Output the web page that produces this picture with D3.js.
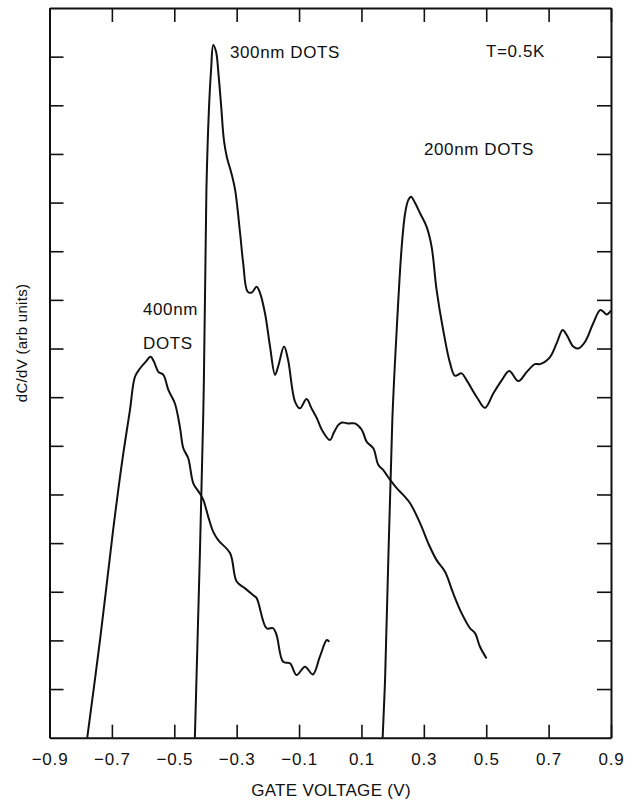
<!DOCTYPE html>
<html>
<head>
<meta charset="utf-8">
<script src="https://cdn.jsdelivr.net/npm/d3@7"></script>
<style>
  body { margin: 0; background: #fff; }
  text { font-family: "Liberation Sans", Arial, sans-serif; fill: #111; }
</style>
</head>
<body>
<script>
// gate voltage ticks (V)
var xTicks = [-0.9, -0.7, -0.5, -0.3, -0.1, 0.1, 0.3, 0.5, 0.7, 0.9];
// unlabeled ticks on the dC/dV axis (arb units)
var yTicks = [1, 2, 3, 4, 5, 6, 7, 8, 9, 10, 11, 12, 13, 14];

// [gate voltage, dC/dV]
var dots400 = [
  [-0.779, 0], [-0.738, 2.01], [-0.696, 4.27], [-0.668, 5.64], [-0.642, 6.74],
  [-0.626, 7.42], [-0.610, 7.59], [-0.591, 7.73], [-0.576, 7.83], [-0.565, 7.73],
  [-0.551, 7.52], [-0.535, 7.46], [-0.519, 7.15], [-0.498, 6.87], [-0.482, 6.39],
  [-0.471, 5.95], [-0.455, 5.74], [-0.439, 5.23], [-0.418, 5.02], [-0.407, 4.89],
  [-0.391, 4.54], [-0.375, 4.23], [-0.359, 4.06], [-0.321, 3.79], [-0.300, 3.21],
  [-0.273, 3.07], [-0.247, 2.93], [-0.236, 2.87], [-0.204, 2.25], [-0.183, 2.25],
  [-0.172, 2.11], [-0.151, 1.56], [-0.129, 1.53], [-0.108, 1.29], [-0.081, 1.46],
  [-0.056, 1.30], [-0.033, 1.67], [-0.011, 2.01], [-0.003, 1.97]
];

var dots300 = [
  [-0.434, 0], [-0.407, 6.67], [-0.397, 11.26], [-0.389, 12.90], [-0.382, 13.73],
  [-0.375, 14.24], [-0.366, 14.10], [-0.358, 13.62], [-0.350, 13.01], [-0.341, 12.29],
  [-0.331, 11.92], [-0.318, 11.63], [-0.305, 11.26], [-0.289, 10.37], [-0.279, 9.75],
  [-0.265, 9.17], [-0.252, 9.15], [-0.236, 9.27], [-0.225, 9.14], [-0.209, 8.72],
  [-0.193, 8.04], [-0.177, 7.46], [-0.167, 7.63], [-0.148, 8.04], [-0.135, 7.76],
  [-0.113, 6.91], [-0.097, 6.77], [-0.076, 6.96], [-0.060, 6.77], [-0.043, 6.57],
  [-0.027, 6.33], [-0.001, 6.12], [0.012, 6.28], [0.026, 6.43], [0.037, 6.48],
  [0.057, 6.46], [0.079, 6.46], [0.101, 6.33], [0.117, 6.08], [0.138, 5.95],
  [0.154, 5.61], [0.170, 5.50], [0.192, 5.30], [0.213, 5.13], [0.234, 4.99],
  [0.256, 4.82], [0.288, 4.41], [0.314, 4.00], [0.341, 3.65], [0.368, 3.41],
  [0.394, 2.97], [0.421, 2.56], [0.448, 2.25], [0.464, 2.15], [0.480, 1.87],
  [0.501, 1.63]
];

var dots200 = [
  [0.168, 0], [0.176, 1.25], [0.199, 6.53], [0.213, 8.38], [0.229, 10.09],
  [0.240, 10.78], [0.250, 11.05], [0.259, 11.12], [0.272, 10.99], [0.288, 10.78],
  [0.309, 10.50], [0.325, 10.09], [0.341, 9.20], [0.362, 8.38], [0.384, 7.70],
  [0.400, 7.44], [0.421, 7.49], [0.437, 7.35], [0.469, 7.01], [0.496, 6.78],
  [0.523, 7.08], [0.550, 7.35], [0.574, 7.54], [0.603, 7.33], [0.630, 7.52],
  [0.656, 7.68], [0.672, 7.68], [0.704, 7.82], [0.726, 8.11], [0.745, 8.38],
  [0.758, 8.28], [0.779, 8.04], [0.795, 8.00], [0.817, 8.14], [0.843, 8.52],
  [0.865, 8.79], [0.875, 8.76], [0.886, 8.70], [0.900, 8.78]
];

var width = 636,
  height = 801,
  padLeft = 49.5,
  padRight = 611,
  padTop = 8,
  padBottom = 737.7;

var svg = d3
  .select("body")
  .append("svg")
  .attr("width", width)
  .attr("height", height);

var x = d3.scaleLinear().domain([-0.9, 0.9]).range([padLeft, padRight]);
var y = d3.scaleLinear().domain([0, 15]).range([padBottom, padTop]);

var fmt = function (d) {
  return d3.format(".1f")(d).replace("-", "\u2212");
};

// frame: ticks on all four sides point inward
var xBottom = svg
  .append("g")
  .attr("class", "axis")
  .attr("transform", "translate(0," + padBottom + ")")
  .call(d3.axisBottom(x).tickValues(xTicks).tickSize(-13).tickSizeOuter(0).tickPadding(15).tickFormat(fmt));

svg
  .append("g")
  .attr("class", "axis")
  .attr("transform", "translate(0," + padTop + ")")
  .call(d3.axisTop(x).tickValues(xTicks).tickSize(-14).tickSizeOuter(0).tickFormat(""));

svg
  .append("g")
  .attr("class", "axis")
  .attr("transform", "translate(" + padLeft + ",0)")
  .call(d3.axisLeft(y).tickValues(yTicks).tickSize(-14).tickSizeOuter(0).tickFormat(""));

svg
  .append("g")
  .attr("class", "axis")
  .attr("transform", "translate(" + padRight + ",0)")
  .call(d3.axisRight(y).tickValues(yTicks).tickSize(-14).tickSizeOuter(0).tickFormat(""));

svg.selectAll(".axis path").attr("stroke", "#111").attr("stroke-width", 2);
svg.selectAll(".axis line").attr("stroke", "#111").attr("stroke-width", 1.6);

xBottom
  .selectAll("text")
  .style("font-size", "17px")
  .style("letter-spacing", "0.8px")
  .style("font-family", "'Liberation Sans', Arial, sans-serif")
  .attr("fill", "#111");

// the three traces
var line = d3
  .line()
  .x((d) => x(d[0]))
  .y((d) => y(d[1]))
  .curve(d3.curveCatmullRom.alpha(0.5));

[dots400, dots300, dots200].forEach(function (series) {
  svg
    .append("path")
    .datum(series)
    .attr("fill", "none")
    .attr("stroke", "#111")
    .attr("stroke-width", 2)
    .attr("stroke-linejoin", "round")
    .attr("d", line);
});

// annotations
var notes = [
  { t: "300nm DOTS", x: 230, y: 57.5 },
  { t: "T=0.5K", x: 486, y: 57 },
  { t: "200nm DOTS", x: 424, y: 155 },
  { t: "400nm", x: 143, y: 315 },
  { t: "DOTS", x: 143, y: 349 }
];

svg
  .selectAll(".note")
  .data(notes)
  .enter()
  .append("text")
  .attr("class", "note")
  .attr("x", (d) => d.x)
  .attr("y", (d) => d.y)
  .style("font-size", "17px")
  .style("letter-spacing", "0.6px")
  .text((d) => d.t);

// axis titles
svg
  .append("text")
  .attr("x", 331)
  .attr("y", 796)
  .attr("text-anchor", "middle")
  .style("font-size", "17px")
  .style("letter-spacing", "0.3px")
  .text("GATE VOLTAGE (V)");

svg
  .append("text")
  .attr("transform", "translate(27,343) rotate(-90)")
  .attr("text-anchor", "middle")
  .style("font-size", "15px")
  .style("letter-spacing", "0.3px")
  .text("dC/dV (arb units)");
</script>
</body>
</html>
